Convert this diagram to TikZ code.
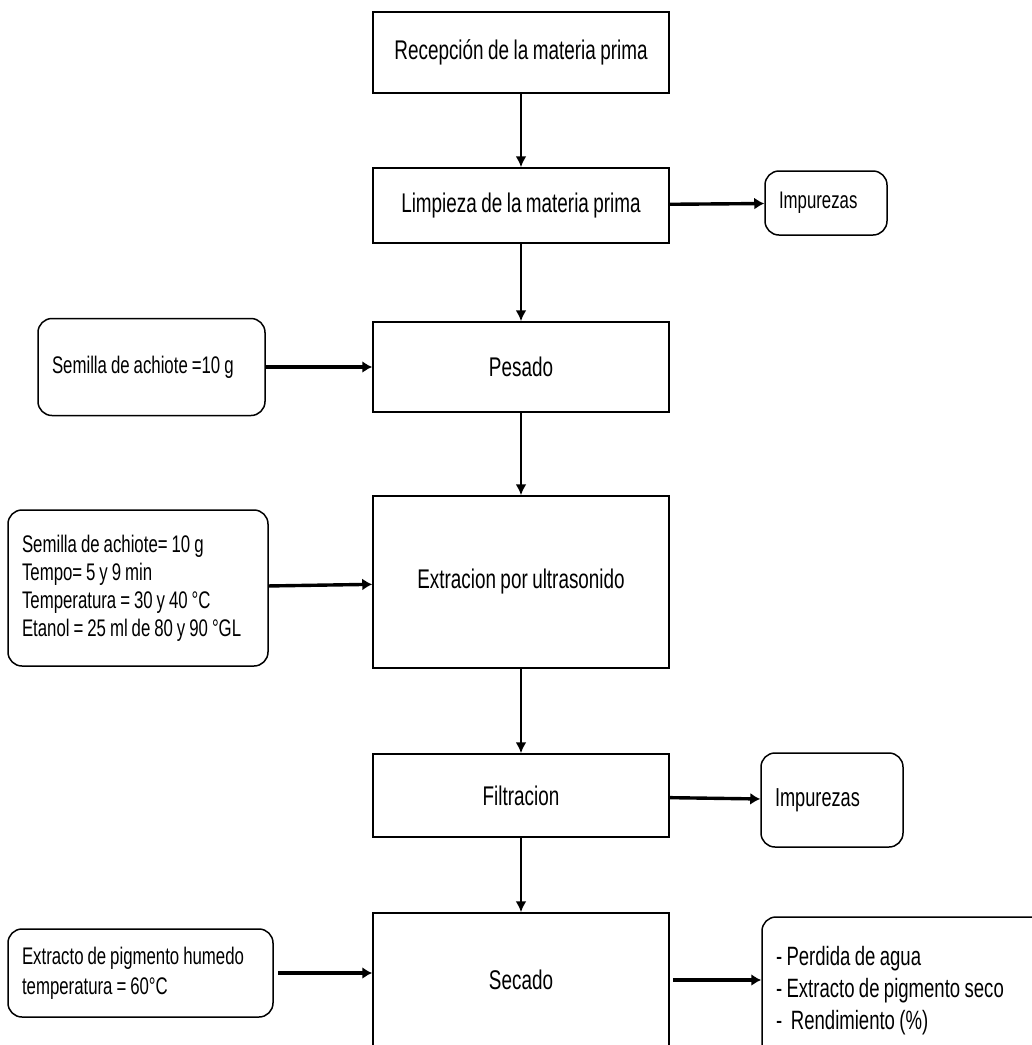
\documentclass[tikz,border=0pt]{standalone}
\usepackage{fontspec}
\setmainfont[FakeStretch=0.70,WordSpace=0.85]{Liberation Sans}
\usepackage{tikz}
\usetikzlibrary{arrows.meta}

\begin{document}
\begin{tikzpicture}[x=1pt,y=-1pt,
	proc/.style={draw,line width=1.5pt,minimum width=296pt,font=\fontsize{27}{32}\selectfont},
	side/.style={draw,line width=1.5pt,rounded corners=14pt,inner xsep=14pt,align=flush left},
	down/.style={line width=2.6pt,-{Latex[length=11pt,width=11pt]}},
	side arrow/.style={line width=3.4pt,-{Latex[length=10pt,width=12pt]}}]
			\useasboundingbox (0,0) rectangle (1032,1045);
			
			\node[proc,minimum height=81pt] (rec)at(521,52.5) {Recepción de la materia prima};
			\node[proc,minimum height=75pt] (lim)at(521,205.5) {Limpieza de la materia prima};
			\node[proc,minimum height=90pt] (pes)at(521,367) {Pesado};
			\node[proc,minimum height=172pt] (ext)at(521,582) {Extracion por ultrasonido};
			\node[proc,minimum height=83pt] (fil)at(521,795.5) {Filtracion};
			\node[proc,minimum height=134pt] (sec)at(521,980) {Secado};
			
			\node[side,text width=94pt,minimum height=64pt,font=\fontsize{24}{28}\selectfont] (imp1)at(826,203) {Impurezas};
			\node[side,text width=199pt,minimum height=97pt,font=\fontsize{24}{28}\selectfont] (sem1)at(151.5,367) {Semilla de achiote =10 g};
			\node[side,text width=232pt,minimum height=156pt,font=\fontsize{24}{28}\selectfont] (sem2)at(138,588) {Semilla de achiote= 10 g\\Tempo= 5 y 9 min\\Temperatura = 30 y 40 °C\\Etanol = 25 ml de 80 y 90 °GL};
			\node[side,text width=114pt,minimum height=94pt,font=\fontsize{26}{30}\selectfont] (imp2)at(832,800) {Impurezas};
			\node[side,text width=237pt,minimum height=88pt,font=\fontsize{24}{30}\selectfont] (hum)at(140.5,973) {Extracto de pigmento humedo\\temperatura = 60°C};
			\node[side,text width=255pt,minimum height=148pt,font=\fontsize{26.5}{32}\selectfont] (out)at(903.5,991) {- Perdida de agua\\- Extracto de pigmento seco\\-\ \ Rendimiento (\%)};
			
			\draw[down] (rec) -- (lim);
			\draw[down] (lim) -- (pes);
			\draw[down] (pes) -- (ext);
			\draw[down] (ext) -- (fil);
			\draw[down] (fil) -- (sec);
			\draw[side arrow] (lim) -- (imp1);
			\draw[side arrow] (sem1) -- (pes);
			\draw[side arrow] (sem2) -- (ext);
			\draw[side arrow] (fil) -- (imp2);
			\draw[side arrow,shorten <=4pt] (hum.east) -- (sec.west |- hum.east);
			\draw[side arrow,shorten <=3pt] (sec.east) -- (out.west |- sec.east);
		\end{tikzpicture}
\end{document}
